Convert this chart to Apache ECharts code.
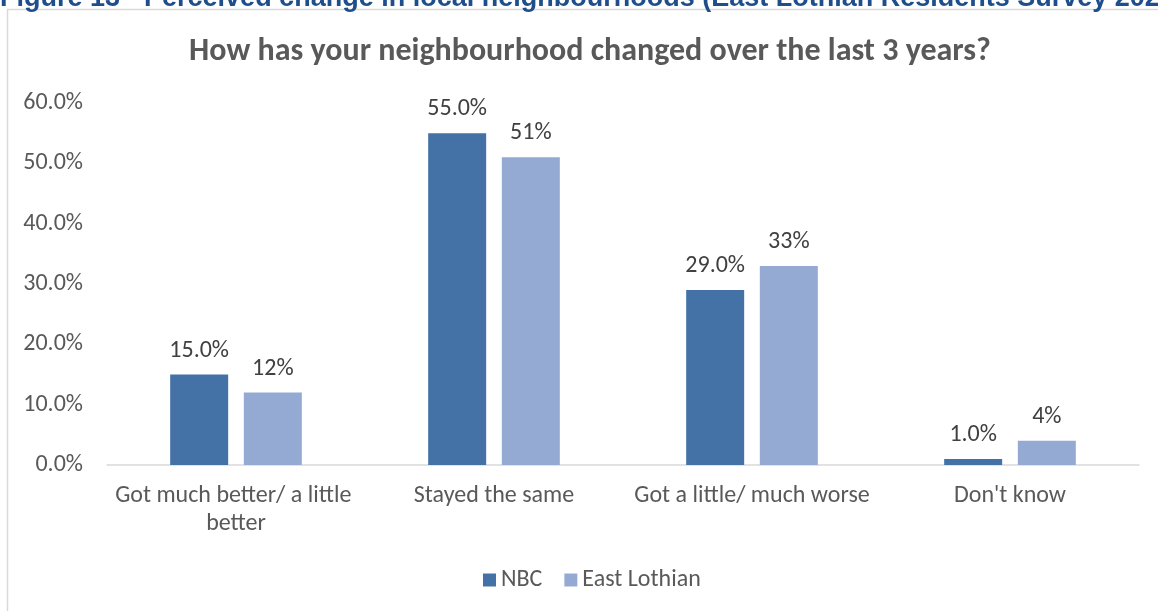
<!DOCTYPE html>
<html>
<head>
<meta charset="utf-8">
<script src="https://cdn.jsdelivr.net/npm/echarts@6/dist/echarts.min.js"></script>
<style>html,body{margin:0;padding:0;background:#fff;}#c{width:1158px;height:611px;}</style>
</head>
<body>
<div id="c"></div>
<script>
const categories = ["Got much better/ a little better", "Stayed the same", "Got a little/ much worse", "Don't know"];
const nbcValues = [15.0, 55.0, 29.0, 1.0];
const eastLothianValues = [12, 51, 33, 4];
const seriesNames = ["NBC", "East Lothian"];
const yTicks = [0, 10, 20, 30, 40, 50, 60];
const chartTitle = "How has your neighbourhood changed over the last 3 years?";
const caption = "Figure 13 - Perceived change in local neighbourhoods (East Lothian Residents Survey 2023)";

const FONT = "Carlito, Lato, 'Liberation Sans', sans-serif";
const chart = echarts.init(document.getElementById('c'), null, {renderer: 'canvas'});
chart.setOption({
  animation: false,
  backgroundColor: '#ffffff',
  textStyle: {fontFamily: FONT},
  title: {
    text: chartTitle,
    left: 585, top: 31, textAlign: 'center',
    textStyle: {fontFamily: FONT, fontSize: 32, fontWeight: 'bold', color: '#595959'}
  },
  graphic: [
    {type: 'rect', shape: {x: 7.5, y: 9.5, width: 1300, height: 800},
     style: {fill: null, stroke: '#d9d9d9', lineWidth: 1.5}, z: -1},
    {type: 'text', x: 0, y: 12,
     style: {text: caption, font: "bold 27px 'Liberation Sans', Arial, sans-serif", fill: '#1f4e8c', textVerticalAlign: 'bottom'}}
  ],
  legend: {
    data: seriesNames,
    left: 478, top: 563,
    itemWidth: 13, itemHeight: 13, itemGap: 22,
    icon: 'rect',
    textStyle: {fontFamily: FONT, fontSize: 24, color: '#595959'}
  },
  grid: {left: 107, right: 19, top: 103, bottom: 146, containLabel: false},
  xAxis: {
    type: 'category', data: categories,
    axisLine: {lineStyle: {color: '#d9d9d9', width: 1.5}},
    axisTick: {show: false},
    axisLabel: {fontFamily: FONT, fontSize: 24, color: '#595959', margin: 17, lineHeight: 28,
      width: 250, overflow: 'break', interval: 0}
  },
  yAxis: {
    type: 'value', min: yTicks[0], max: yTicks[yTicks.length - 1], interval: 10,
    axisLine: {show: false}, axisTick: {show: false}, splitLine: {show: false},
    axisLabel: {fontFamily: FONT, fontSize: 24, color: '#595959', margin: 24,
      formatter: v => v.toFixed(1) + '%'}
  },
  series: [
    {name: seriesNames[0], type: 'bar', data: nbcValues, barWidth: 58, barGap: '27%',
     itemStyle: {color: '#4472a6'},
     label: {show: true, position: 'top', distance: 12, fontFamily: FONT, fontSize: 24, color: '#404040',
       formatter: p => p.value.toFixed(1) + '%'}},
    {name: seriesNames[1], type: 'bar', data: eastLothianValues, barWidth: 58,
     itemStyle: {color: '#95aad2'},
     label: {show: true, position: 'top', distance: 12, fontFamily: FONT, fontSize: 24, color: '#404040',
       formatter: p => p.value.toFixed(0) + '%'}}
  ]
});
</script>
</body>
</html>
